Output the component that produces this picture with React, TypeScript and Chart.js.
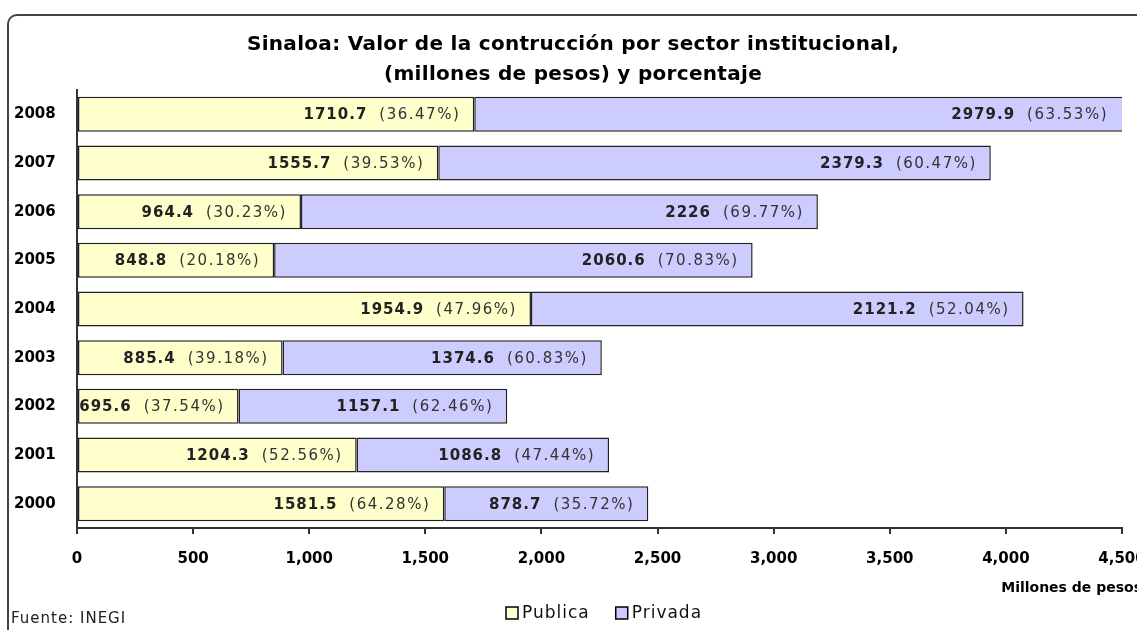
import React, { useEffect, useRef } from 'react';
import { Chart, registerables } from 'chart.js';

Chart.register(...registerables);

const years = ['2008', '2007', '2006', '2005', '2004', '2003', '2002', '2001', '2000'];
const publica = [1710.7, 1555.7, 964.4, 848.8, 1954.9, 885.4, 695.6, 1204.3, 1581.5];
const privada = [2979.9, 2379.3, 2226, 2060.6, 2121.2, 1374.6, 1157.1, 1086.8, 878.7];
const publicaPct = ['36.47', '39.53', '30.23', '20.18', '47.96', '39.18', '37.54', '52.56', '64.28'];
const privadaPct = ['63.53', '60.47', '69.77', '70.83', '52.04', '60.83', '62.46', '47.44', '35.72'];
const seriesNames = ['Publica', 'Privada'];
const xMin = 0;
const xMax = 4500;
const xStep = 500;
const titleLines = [
  'Sinaloa: Valor de la contrucción por sector institucional,',
  '(millones de pesos) y porcentaje',
];
const xAxisTitle = 'Millones de pesos';
const sourceNote = 'Fuente: INEGI';

const COLORS = ['#FFFFCC', '#CCCCFF'];
const FONT = "'DejaVu Sans', sans-serif";

function setSpacing(ctx: any, v: string) {
  try { ctx.letterSpacing = v; } catch (e) { /* ignore */ }
}

const decorPlugin = {
  id: 'decor',
  beforeDraw(chart: any) {
    const ctx = chart.ctx;
    ctx.save();
    ctx.fillStyle = '#ffffff';
    ctx.fillRect(0, 0, chart.width, chart.height);
    ctx.restore();
  },
  afterDatasetsDraw(chart: any) {
    const ctx = chart.ctx;
    const area = chart.chartArea;
    const pcts = [publicaPct, privadaPct];
    const vals = [publica, privada];
    ctx.save();
    ctx.textBaseline = 'middle';
    ctx.textAlign = 'left';
    for (let d = 0; d < 2; d++) {
      const meta = chart.getDatasetMeta(d);
      meta.data.forEach((el: any, i: number) => {
        const end = Math.min(el.x, area.right);
        const numText = String(vals[d][i]);
        const pctText = '(' + pcts[d][i] + '%)';
        ctx.font = `bold 15px ${FONT}`;
        setSpacing(ctx, '1px');
        const wNum = ctx.measureText(numText).width;
        ctx.font = `15px ${FONT}`;
        setSpacing(ctx, '1.5px');
        const wPct = ctx.measureText(pctText).width;
        const gap = 12;
        const right = end - 14;
        const startX = right - wPct - gap - wNum;
        const y = el.y + 1;
        ctx.font = `bold 15px ${FONT}`;
        setSpacing(ctx, '1px');
        ctx.fillStyle = '#222';
        ctx.fillText(numText, startX, y);
        ctx.font = `15px ${FONT}`;
        setSpacing(ctx, '1.5px');
        ctx.fillStyle = '#333';
        ctx.fillText(pctText, right - wPct, y);
      });
    }
    ctx.restore();
  },
  afterDraw(chart: any) {
    const ctx = chart.ctx;
    ctx.save();
    // frame
    ctx.strokeStyle = '#444';
    ctx.lineWidth = 2;
    ctx.beginPath();
    ctx.moveTo(8, 640);
    ctx.lineTo(8, 24);
    ctx.arcTo(8, 15, 18, 15, 9);
    ctx.lineTo(1150, 15);
    ctx.stroke();

    // title
    ctx.fillStyle = '#000';
    ctx.textAlign = 'center';
    ctx.textBaseline = 'middle';
    ctx.font = `bold 20px ${FONT}`;
    setSpacing(ctx, '0.3px');
    ctx.fillText(titleLines[0], 573, 45);
    ctx.fillText(titleLines[1], 573, 75);

    // x axis title
    ctx.textAlign = 'right';
    ctx.font = `bold 14px ${FONT}`;
    setSpacing(ctx, '0px');
    ctx.fillText(xAxisTitle, 1142, 588);

    // source
    ctx.textAlign = 'left';
    ctx.font = `15px ${FONT}`;
    setSpacing(ctx, '1px');
    ctx.fillStyle = '#222';
    ctx.fillText(sourceNote, 11, 619);

    // legend
    let x = 506;
    const ly = 613;
    ctx.font = `17px ${FONT}`;
    setSpacing(ctx, '1px');
    for (let k = 0; k < seriesNames.length; k++) {
      ctx.fillStyle = COLORS[k];
      ctx.fillRect(x, ly - 6, 12, 12);
      ctx.strokeStyle = '#000';
      ctx.lineWidth = 1.5;
      ctx.strokeRect(x, ly - 6, 12, 12);
      ctx.fillStyle = '#111';
      ctx.fillText(seriesNames[k], x + 16, ly + 1);
      x += 16 + ctx.measureText(seriesNames[k]).width + 26;
    }
    ctx.restore();
  },
};

export default function App() {
  const ref = useRef<HTMLCanvasElement | null>(null);
  useEffect(() => {
    if (!ref.current) return;
    const chart = new Chart(ref.current, {
      type: 'bar',
      data: {
        labels: years,
        datasets: [
          {
            label: seriesNames[0],
            data: publica,
            backgroundColor: COLORS[0],
            borderColor: '#222',
            borderWidth: 1.5,
            borderSkipped: false,
            barPercentage: 0.72,
            categoryPercentage: 1,
          },
          {
            label: seriesNames[1],
            data: privada,
            backgroundColor: COLORS[1],
            borderColor: '#222',
            borderWidth: 1.5,
            borderSkipped: false,
            barPercentage: 0.72,
            categoryPercentage: 1,
          },
        ],
      },
      options: {
        indexAxis: 'y',
        animation: false,
        responsive: false,
        maintainAspectRatio: false,
        locale: 'en-US',
        layout: { padding: { left: 14, right: 15, top: 90, bottom: 0 } },
        plugins: {
          legend: { display: false },
          title: { display: false },
          tooltip: { enabled: false },
        },
        scales: {
          x: {
            type: 'linear',
            stacked: true,
            min: xMin,
            max: xMax,
            ticks: {
              stepSize: xStep,
              font: { family: FONT, size: 15, weight: 'bold' },
              color: '#000',
              padding: 16,
              maxRotation: 0,
              autoSkip: false,
            },
            grid: {
              display: true,
              drawOnChartArea: false,
              drawTicks: true,
              tickLength: 6,
              color: '#333',
              lineWidth: 2,
            },
            border: { display: true, color: '#333', width: 2 },
            afterFit: (s: any) => {
              s.height = 102;
              s.paddingLeft = 0;
              s.paddingRight = 0;
            },
          },
          y: {
            type: 'category',
            stacked: true,
            ticks: {
              font: { family: FONT, size: 15, weight: 'bold' },
              color: '#000',
              crossAlign: 'far',
              padding: 0,
            },
            grid: { display: false },
            border: { display: true, color: '#333', width: 2 },
            afterFit: (s: any) => {
              s.width = 63;
              s.paddingTop = 0;
              s.paddingBottom = 0;
            },
          },
        },
      } as any,
      plugins: [decorPlugin],
    });
    return () => chart.destroy();
  }, []);
  return (
    <div style={{ position: 'absolute', left: 0, top: 0, width: 1137, height: 630 }}>
      <canvas ref={ref} width={1137} height={630} style={{ width: 1137, height: 630 }} />
    </div>
  );
}
